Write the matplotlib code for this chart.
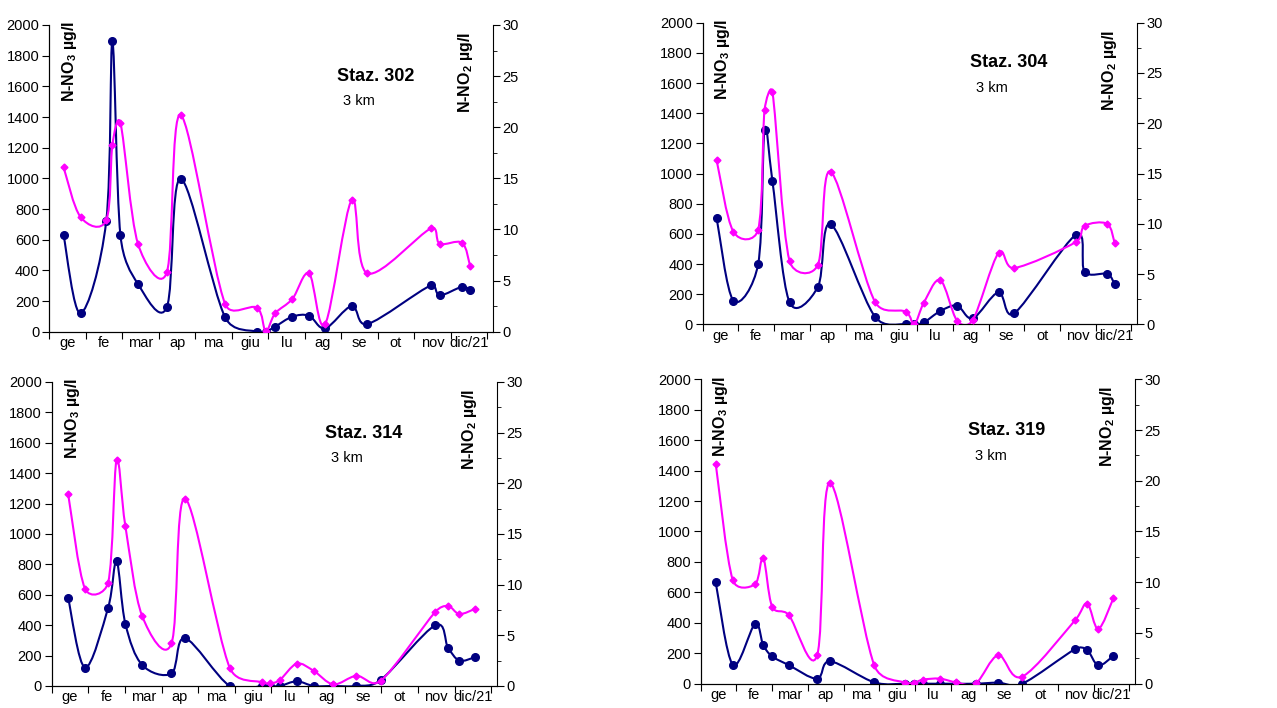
import math
import matplotlib
matplotlib.use("Agg")
import matplotlib.pyplot as plt
from matplotlib.path import Path
from matplotlib.patches import PathPatch

plt.rcParams['font.family'] = ['Liberation Sans', 'DejaVu Sans']
plt.rcParams['mathtext.default'] = 'regular'

mesi = ['ge', 'fe', 'mar', 'ap', 'ma', 'giu', 'lu', 'ag', 'se', 'ot', 'nov', 'dic/21']

# sampling dates, in months from the start of the year
date_302 = [0.39, 0.86, 1.56, 1.73, 1.95, 2.43, 3.22, 3.60, 4.82, 5.69, 5.93, 6.19, 6.66, 7.12, 7.56, 8.29, 8.72, 10.46, 10.70, 11.31, 11.53]
date_304 = [0.39, 0.86, 1.55, 1.73, 1.95, 2.43, 3.22, 3.58, 4.82, 5.68, 5.92, 6.19, 6.65, 7.12, 7.56, 8.28, 8.72, 10.45, 10.69, 11.32, 11.53]
date_314 = [0.45, 0.91, 1.54, 1.77, 2.01, 2.47, 3.27, 3.64, 4.86, 5.74, 5.97, 6.23, 6.69, 7.15, 7.69, 8.32, 8.98, 10.47, 10.82, 11.13, 11.55]
date_319 = [0.42, 0.90, 1.52, 1.75, 2.00, 2.46, 3.26, 3.62, 4.86, 5.72, 5.96, 6.22, 6.69, 7.16, 7.70, 8.33, 9.00, 10.49, 10.82, 11.13, 11.55]

# N-NO3 (ug/l, left axis)
no3_302 = [630, 120, 720, 1893, 628, 311, 159, 998, 93, 0, 0, 33, 98, 104, 22, 167, 50, 302, 237, 293, 272]
no3_304 = [703, 157, 398, 1288, 950, 146, 247, 665, 51, 0, 0, 13, 88, 124, 40, 212, 73, 594, 349, 334, 267]
no3_314 = [577, 121, 515, 820, 410, 138, 83, 314, 0, 0, 0, 0, 31, 0, 0, 0, 39, 399, 252, 167, 189]
no3_319 = [666, 125, 392, 254, 180, 123, 33, 147, 9, 0, 0, 0, 0, 0, 0, 7, 0, 228, 221, 120, 182]

# N-NO2 (ug/l, right axis)
no2_302 = [16.1, 11.2, 10.9, 18.3, 20.4, 8.6, 5.8, 21.2, 2.7, 2.35, 0.07, 1.8, 3.2, 5.7, 0.75, 12.9, 5.7, 10.1, 8.6, 8.7, 6.45]
no2_304 = [16.3, 9.2, 9.4, 21.3, 23.1, 6.3, 5.9, 15.2, 2.25, 1.26, 0.0, 2.15, 4.4, 0.36, 0.43, 7.1, 5.6, 8.2, 9.8, 10.0, 8.1]
no2_314 = [18.9, 9.6, 10.2, 22.3, 15.8, 6.9, 4.2, 18.5, 1.8, 0.36, 0.26, 0.6, 2.2, 1.5, 0.16, 1.0, 0.5, 7.3, 7.9, 7.1, 7.6]
no2_319 = [21.7, 10.2, 9.8, 12.4, 7.6, 6.8, 2.8, 19.8, 1.8, 0.1, 0.07, 0.4, 0.5, 0.13, 0.03, 2.8, 0.7, 6.3, 7.9, 5.4, 8.4]

stazioni = ['Staz. 302', 'Staz. 304', 'Staz. 314', 'Staz. 319']
distanze = ['3 km', '3 km', '3 km', '3 km']

NAVY = '#000080'
MAGENTA = '#FF00FF'
W, H = 1277, 708


def smooth_path(x, y, sx, sy):
    # Excel-like smoothed line: cubic Beziers, tangent 1/6 of the neighbour
    # chord, limited to half the segment length (measured in pixels)
    n = len(x)
    X = [v * sx for v in x]
    Y = [v * sy for v in y]
    verts = [(x[0], y[0])]
    codes = [Path.MOVETO]
    for i in range(n - 1):
        a = i - 1 if i > 0 else i
        b = i + 2 if i + 2 < n else i + 1
        d12 = math.hypot(X[i + 1] - X[i], Y[i + 1] - Y[i])
        d02 = math.hypot(X[i + 1] - X[a], Y[i + 1] - Y[a])
        d13 = math.hypot(X[b] - X[i], Y[b] - Y[i])
        f1 = 1 / 6
        if d02 / 6 > d12 / 2:
            f1 = d12 / 2 / d02
        f2 = 1 / 6
        if d13 / 6 > d12 / 2:
            f2 = d12 / 2 / d13
        c1 = (x[i] + (x[i + 1] - x[a]) * f1, y[i] + (y[i + 1] - y[a]) * f1)
        c2 = (x[i + 1] - (x[b] - x[i]) * f2, y[i + 1] - (y[b] - y[i]) * f2)
        verts += [c1, c2, (x[i + 1], y[i + 1])]
        codes += [Path.CURVE4] * 3
    return Path(verts, codes)


fig = plt.figure(figsize=(W / 100, H / 100), dpi=100)

# panel rectangles [left, bottom, width, height] and text positions
rects = [[0.0386, 0.5315, 0.3472, 0.4332],
         [0.5503, 0.5419, 0.3399, 0.4260],
         [0.0405, 0.0311, 0.3485, 0.4294],
         [0.5487, 0.0343, 0.3399, 0.4300]]
staz_pos = [(0.736, 0.831), (0.704, 0.869), (0.700, 0.831), (0.705, 0.833)]
km_pos = [(0.699, 0.753), (0.666, 0.785), (0.663, 0.751), (0.668, 0.748)]

dates = [date_302, date_304, date_314, date_319]
no3 = [no3_302, no3_304, no3_314, no3_319]
no2 = [no2_302, no2_304, no2_314, no2_319]
XMAX = 12.15

for k in range(4):
    ax = fig.add_axes(rects[k])
    ax2 = ax.twinx()
    x = dates[k]
    sx = rects[k][2] * W / XMAX
    hpx = rects[k][3] * H

    ax.add_patch(PathPatch(smooth_path(x, no3[k], sx, hpx / 2000), facecolor='none',
                           edgecolor=NAVY, lw=1.5, zorder=2))
    ax.plot(x, no3[k], 'o', color=NAVY, ms=5.5, zorder=3)
    ax2.add_patch(PathPatch(smooth_path(x, no2[k], sx, hpx / 30), facecolor='none',
                            edgecolor=MAGENTA, lw=1.5, zorder=2))
    ax2.plot(x, no2[k], 'D', color=MAGENTA, ms=3.5, zorder=3)

    ax.set_xlim(0, XMAX)
    ax.set_ylim(0, 2000)
    ax2.set_ylim(0, 30)
    ax.set_yticks(range(0, 2001, 200))
    ax2.set_yticks(range(0, 31, 5))
    ax2.set_yticks([2.5 + 5 * i for i in range(6)], minor=True)

    ax.set_xticks(range(13))
    ax.set_xticklabels([])
    ax.set_xticks([i + 0.5 for i in range(12)], minor=True)
    ax.set_xticklabels(mesi, minor=True)
    ax.tick_params(axis='x', which='minor', length=0, pad=3, labelsize=10.5)
    ax.tick_params(axis='x', which='major', length=5, direction='out')
    ax.tick_params(axis='y', length=5, direction='out', labelsize=10.5, pad=2)
    ax2.tick_params(axis='y', which='major', length=5, direction='out', labelsize=10.5, pad=2)
    ax2.tick_params(axis='y', which='minor', length=3, direction='out')

    for a in (ax, ax2):
        a.spines['top'].set_visible(False)
        a.set_facecolor('none')
    ax.spines['right'].set_visible(False)

    ax.text(0.046, 1.012, 'N-NO$_3$ µg/l', transform=ax.transAxes, rotation=90,
            ha='center', va='top', fontsize=11.5, fontweight='bold')
    ax.text(0.938, 0.977, 'N-NO$_2$ µg/l', transform=ax.transAxes, rotation=90,
            ha='center', va='top', fontsize=11.5, fontweight='bold')
    ax.text(staz_pos[k][0], staz_pos[k][1], stazioni[k], transform=ax.transAxes,
            ha='center', va='center', fontsize=13, fontweight='bold')
    ax.text(km_pos[k][0], km_pos[k][1], distanze[k], transform=ax.transAxes,
            ha='center', va='center', fontsize=10.5)

fig.savefig('out.png', dpi=100)
